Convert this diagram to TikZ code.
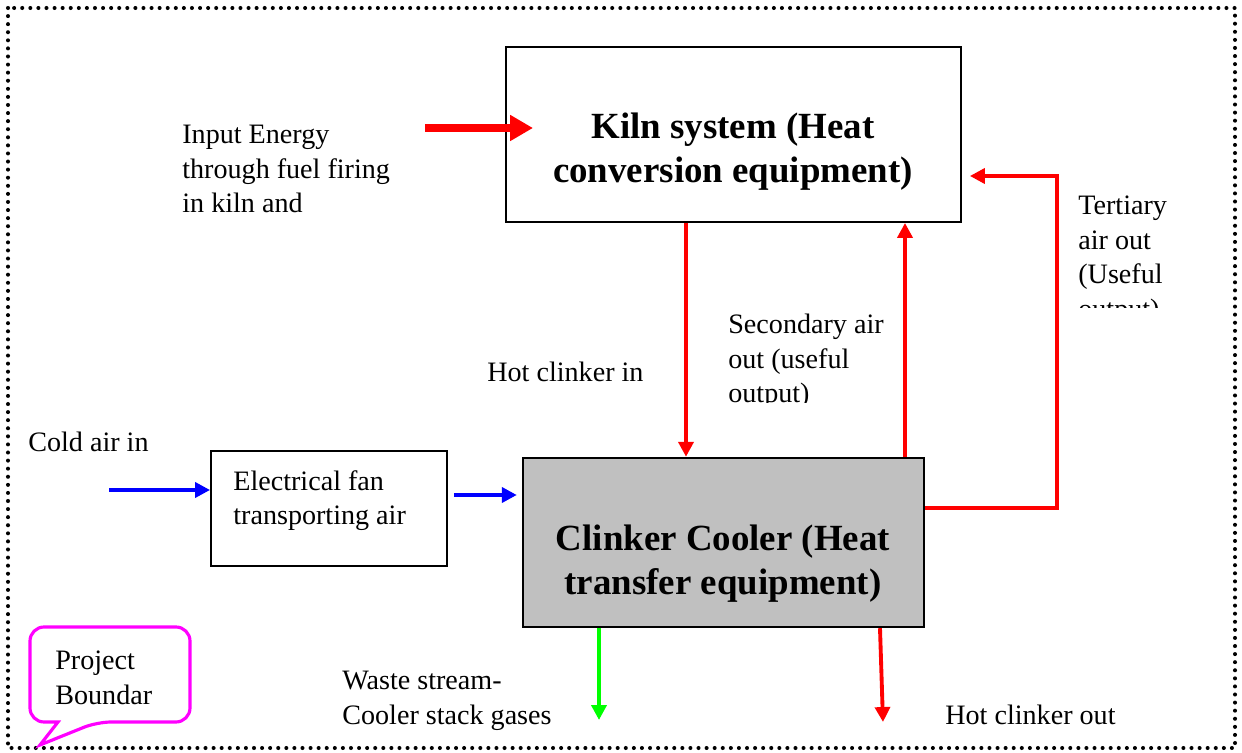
\documentclass[tikz,border=0pt]{standalone}
\usepackage{fontspec}
\setmainfont{Liberation Serif}
\usetikzlibrary{
  arrows.meta,
  positioning
}
\definecolor{FlowRed}{HTML}{FF0000}
\definecolor{FlowBlue}{HTML}{0000FF}
\definecolor{FlowGreen}{HTML}{00FF00}
\definecolor{BoundMagenta}{HTML}{FF00FF}
\definecolor{CoolerGrey}{HTML}{C0C0C0}
\tikzset{
  % Equipment box: size given per node
  equip/.style={
    rectangle, draw=black, line width=1.1pt,
    fill=#1, inner sep=0pt
  },
  equip/.default=white,
  % Bold equipment title
  ttl/.style={
    font=\fontsize{21}{25}\selectfont\bfseries,
    align=center, inner sep=0pt
  },
  % Plain flow label
  lbl/.style={
    font=\fontsize{16}{19.6}\selectfont,
    align=left, anchor=north west, inner sep=0pt
  },
  % Flow arrow
  arr/.style={
    -{Triangle[length=8.5pt,width=8.5pt]},
    line width=2.2pt, color=#1
  },
  % Fuel arrow, heavier
  fuelarr/.style={
    -{Triangle[length=13pt,width=14pt]},
    line width=4.6pt, color=FlowRed
  },
  % Dotted project boundary
  bound/.style={line width=2.3pt, dash pattern=on 0pt off 4.6pt, line cap=round},
  % Speech bubble
  bubble/.style={draw=BoundMagenta, line width=1.8pt, fill=white}
}

\begin{document}
\begin{tikzpicture}[x=0.02cm, y=-0.02cm]
  \useasboundingbox (0,0) rectangle (1242,753);
  \draw[bound] (8,8) rectangle (1235,748);

  % Equipment
  \node[equip,             minimum width=9.1cm,  minimum height=3.5cm]  (kiln)   at (733.5,134.5) {};
  \node[equip=CoolerGrey, line width=1.4pt, minimum width=8.02cm, minimum height=3.38cm] (cooler) at (723.5,542.5) {};
  \node[equip,             minimum width=4.72cm, minimum height=2.3cm]  (fan)    at (329,508.5)   {};
  \node[ttl] (kilntxt)   at (733,152) {Kiln system (Heat\\conversion equipment)};
  \node[ttl] (coolertxt) at (723,564) {Clinker Cooler (Heat\\transfer equipment)};
  \node[lbl] (fantxt)    at (233,470) {Electrical fan\\transporting air};

  % Labels
  \node[lbl] (fuel)      at (182,125) {Input Energy\\through fuel firing\\in kiln and};
  \begin{scope}
    \clip (1070,185) rectangle (1200,308);
    \node[lbl] (tertiary) at (1078,196) {Tertiary\\air out\\(Useful\\output)};
  \end{scope}
  \begin{scope}
    \clip (720,300) rectangle (900,403);
    \node[lbl] (secondary) at (728,314) {Secondary air\\out (useful\\output)};
  \end{scope}
  \node[lbl] (hotin)     at (487,362) {Hot clinker in};
  \node[lbl] (coldin)    at (28,432)  {Cold air in};
  \node[lbl] (waste)     at (342,671) {Waste stream-\\Cooler stack gases};
  \node[lbl] (hotout)    at (945,705) {Hot clinker out};

  % Free arrow ends
  \coordinate (fuelsrc)  at (425,128);
  \coordinate (fuelend)  at (533,128);
  \coordinate (coldsrc)  at (109,490);
  \coordinate (wasteend) at (599,720);
  \coordinate (outend)   at (883,722);

  % Flows
  \draw[fuelarr]        (fuelsrc) -- (fuelend);
  \draw[arr=FlowRed]    (kiln.south -| 686,0) -- (cooler.north -| 686,0);
  \draw[arr=FlowRed]    (cooler.north -| 905,0) -- (kiln.south -| 905,0);
  \draw[arr=FlowRed, shorten >=0.16cm] (cooler.east |- 0,508) -| (1057,176) -- (kiln.east |- 0,176);
  \draw[arr=FlowBlue]   (coldsrc) -- (fan.west |- coldsrc);
  \draw[arr=FlowBlue, shorten <=0.12cm, shorten >=0.1cm] (fan.east |- 0,495) -- (cooler.west |- 0,495);
  \draw[arr=FlowGreen]  (cooler.south -| 599,0) -- (wasteend);
  \draw[arr=FlowRed]    (cooler.south -| 880,0) -- (outend);

  % Project boundary bubble
  \draw[bubble] (30,675) [rounded corners=8pt] -- (30,627) -- (190,627) -- (190,722) -- (97,722)
    [sharp corners] -- (40,745) -- (58,722) [rounded corners=8pt] -- (30,722) -- cycle;
  \node[lbl] (project) at (55,651) {Project\\Boundar};
\end{tikzpicture}
\end{document}
